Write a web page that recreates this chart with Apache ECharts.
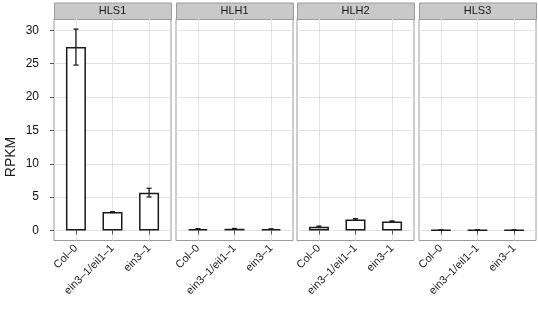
<!DOCTYPE html>
<html>
<head>
<meta charset="utf-8">
<script src="https://cdn.jsdelivr.net/npm/echarts@6/dist/echarts.min.js"></script>
<style>
  html, body { margin: 0; padding: 0; background: #fff; }
  #chart { width: 538px; height: 315px; }
</style>
</head>
<body>
<div id="chart"></div>
<script>
// facets + groups
var genes = ['HLS1', 'HLH1', 'HLH2', 'HLS3']
var genotypes = ['Col\u20130', 'ein3\u20131/eil1\u20131', 'ein3\u20131']

// mean RPKM per genotype, and the error (half range)
var hls1 = [27.5, 2.75, 5.67]
var hls1Err = [2.7, 0.06, 0.65]
var hlh1 = [0.22, 0.25, 0.2]
var hlh1Err = [0.03, 0.04, 0.03]
var hlh2 = [0.55, 1.65, 1.35]
var hlh2Err = [0.1, 0.12, 0.08]
var hls3 = [0.05, 0.05, 0.05]
var hls3Err = [0.02, 0.02, 0.02]

var yTicks = [0, 5, 10, 15, 20, 25, 30]

var values = [hls1, hlh1, hlh2, hls3]
var errors = [hls1Err, hlh1Err, hlh2Err, hls3Err]

var panelLeft = [54, 176, 297, 419]
var panelW = 117
var panelTop = 19
var panelH = 221.5
var ink = '#1a1a1a'

var grids = [], xAxes = [], yAxes = [], series = [], graphics = []

genes.forEach(function (g, i) {
  grids.push({
    left: panelLeft[i], top: panelTop, width: panelW, height: panelH,
    show: true, borderColor: '#9a9a9a', borderWidth: 1, backgroundColor: '#fff'
  })
  xAxes.push({
    type: 'value', gridIndex: i, min: 0.4, max: 3.6,
    axisLine: { show: false },
    axisTick: { show: true, customValues: [1, 2, 3], length: 4, lineStyle: { color: '#555' } },
    axisLabel: {
      customValues: [1, 2, 3], rotate: 45, margin: 6, fontSize: 11, color: '#222',
      fontFamily: 'Liberation Sans',
      formatter: function (v) { return genotypes[Math.round(v) - 1] }
    },
    splitLine: { show: true, lineStyle: { color: '#e3e3e3', width: 1 } }
  })
  yAxes.push({
    type: 'value', gridIndex: i, min: -1.51, max: 31.71,
    axisLine: { show: false },
    axisTick: { show: i === 0, customValues: yTicks, length: 4, lineStyle: { color: '#555' } },
    axisLabel: {
      show: i === 0, customValues: yTicks, fontSize: 12, color: '#111', margin: 15,
      fontFamily: 'Liberation Sans'
    },
    splitLine: { show: true, lineStyle: { color: '#e3e3e3', width: 1 } }
  })

  series.push({
    type: 'bar', xAxisIndex: i, yAxisIndex: i, barWidth: 20,
    data: values[i].map(function (v, k) { return [k + 1, v] }),
    itemStyle: { color: '#fff', borderColor: ink, borderWidth: 1.5 },
    silent: true
  })
  series.push({
    type: 'custom', xAxisIndex: i, yAxisIndex: i, silent: true, z: 3,
    data: values[i].map(function (v, k) { return [k + 1, v - errors[i][k], v + errors[i][k]] }),
    renderItem: function (params, api) {
      var x = api.value(0)
      var top = api.coord([x, api.value(2)])
      var bot = api.coord([x, api.value(1)])
      var hw = 2.5
      var st = { stroke: ink, lineWidth: 1.3 }
      return {
        type: 'group',
        children: [
          { type: 'line', shape: { x1: top[0], y1: top[1], x2: bot[0], y2: bot[1] }, style: st },
          { type: 'line', shape: { x1: top[0] - hw, y1: top[1], x2: top[0] + hw, y2: top[1] }, style: st },
          { type: 'line', shape: { x1: bot[0] - hw, y1: bot[1], x2: bot[0] + hw, y2: bot[1] }, style: st }
        ]
      }
    }
  })

  // facet strip
  graphics.push({
    type: 'rect', left: panelLeft[i], top: 2.5,
    shape: { width: panelW, height: 16.5 },
    style: { fill: '#c9c9c9', stroke: '#9a9a9a', lineWidth: 1 }
  })
  graphics.push({
    type: 'text', x: panelLeft[i] + panelW / 2, y: 11,
    style: {
      text: g, fill: ink, font: '11px "Liberation Sans"',
      textAlign: 'center', textVerticalAlign: 'middle'
    }
  })
})

graphics.push({
  type: 'text', x: 11, y: 157, rotation: Math.PI / 2,
  style: {
    text: 'RPKM', fill: ink, font: '14px "Liberation Sans"',
    textAlign: 'center', textVerticalAlign: 'middle'
  }
})

var chart = echarts.init(document.getElementById('chart'))
chart.setOption({
  animation: false,
  grid: grids,
  xAxis: xAxes,
  yAxis: yAxes,
  series: series,
  graphic: graphics
})
</script>
</body>
</html>
